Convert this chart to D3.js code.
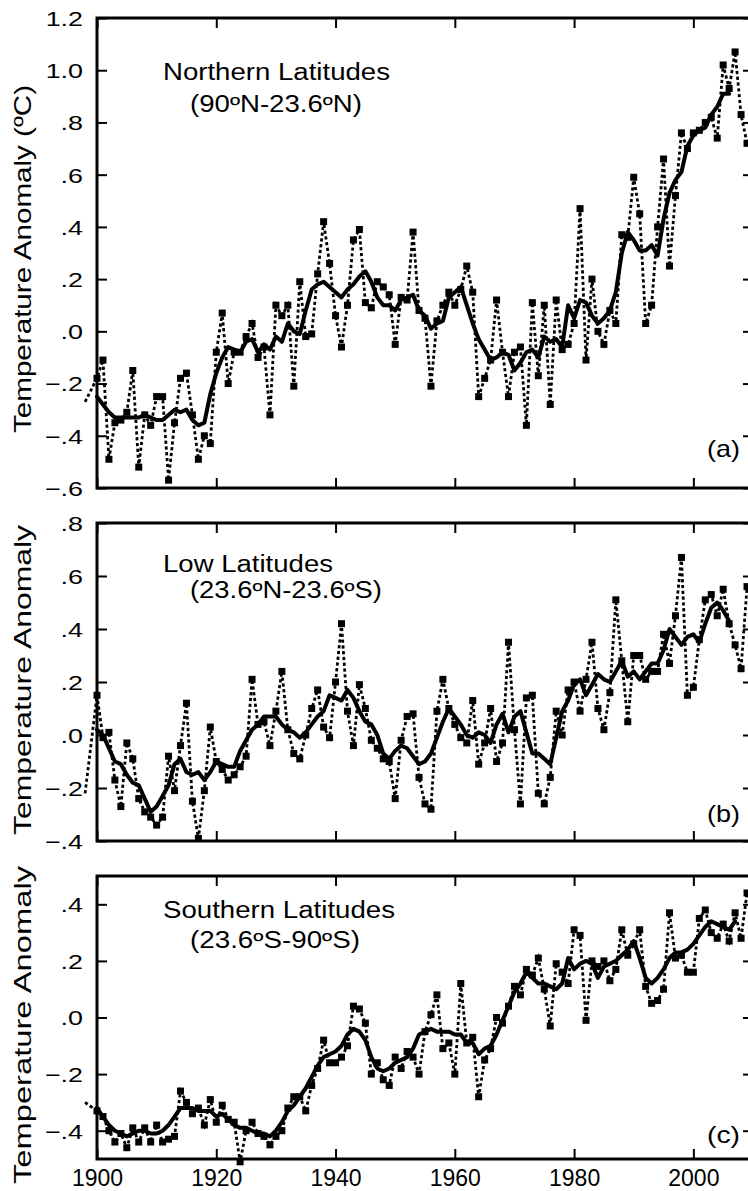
<!DOCTYPE html>
<html>
<head>
<meta charset="utf-8">
<script src="https://cdn.jsdelivr.net/npm/d3@7"></script>
<style>
  body { margin: 0; background: #fff; }
  svg { display: block; }
  text { font-family: "Liberation Sans", Arial, Helvetica, sans-serif; fill: #000; }
</style>
</head>
<body>
<svg id="chart" width="748" height="1191"></svg>
<script>
// ---------------- DATA ----------------
const firstYear = 1900;
const leadYear = 1898;
const yearTicks = [1900, 1920, 1940, 1960, 1980, 2000];

// (a) Northern Latitudes (90ºN-23.6ºN)
const northLead = -0.27;
const northAnnual = [
  -0.18, -0.11, -0.49, -0.35, -0.34, -0.31, -0.15, -0.52, -0.32, -0.36,
  -0.25, -0.25, -0.57, -0.35, -0.18, -0.16, -0.32, -0.49, -0.40, -0.43,
  -0.08,  0.07, -0.20, -0.08, -0.08, -0.02,  0.03, -0.10, -0.06, -0.32,
   0.10,  0.06,  0.10, -0.21,  0.19, -0.02, -0.01,  0.22,  0.42,  0.26,
   0.06, -0.06,  0.10,  0.35,  0.39,  0.11,  0.09,  0.19,  0.17,  0.14,
  -0.05,  0.13,  0.12,  0.38,  0.08,  0.05, -0.21,  0.04,  0.10,  0.15,
   0.10,  0.16,  0.25,  0.15, -0.25, -0.18, -0.11,  0.12, -0.08, -0.25,
  -0.08, -0.06, -0.36,  0.11, -0.17,  0.10, -0.28,  0.12, -0.07, -0.05,
   0.03,  0.47, -0.11,  0.20,  0.00, -0.05,  0.08,  0.03,  0.37,  0.36,
   0.59,  0.45,  0.03,  0.10,  0.40,  0.66,  0.25,  0.52,  0.76,  0.70,
   0.76,  0.77,  0.80,  0.82,  0.74,  1.02,  0.93,  1.07,  0.83,  0.72
];
const northSmooth = [
  -0.25, -0.28, -0.31, -0.33, -0.33, -0.33, -0.33, -0.33, -0.32, -0.33,
  -0.34, -0.34, -0.32, -0.30, -0.31, -0.30, -0.34, -0.36, -0.35, -0.24,
  -0.16, -0.10, -0.06, -0.07, -0.08, -0.04, -0.03, -0.08, -0.05, -0.07,
  -0.02, -0.04,  0.03,  0.00, -0.01,  0.08,  0.16,  0.18,  0.19,  0.17,
   0.15,  0.13,  0.16,  0.18,  0.21,  0.23,  0.19,  0.13,  0.10,  0.10,
   0.08,  0.12,  0.13,  0.14,  0.08,  0.06,  0.01,  0.03,  0.04,  0.13,
   0.15,  0.17,  0.10,  0.03, -0.03, -0.07, -0.11, -0.10, -0.08, -0.09,
  -0.15, -0.12, -0.08, -0.07, -0.10, -0.02, -0.04, -0.03, -0.06,  0.10,
   0.05,  0.12,  0.11,  0.06,  0.03,  0.05,  0.08,  0.15,  0.30,  0.38,
   0.35,  0.31,  0.31,  0.33,  0.29,  0.43,  0.53,  0.58,  0.61,  0.71,
   0.75,  0.77,  0.78,  0.83,  0.86,  0.91,  0.91
];
const northTicks = [-0.6, -0.4, -0.2, 0, 0.2, 0.4, 0.6, 0.8, 1.0, 1.2];

// (b) Low Latitudes (23.6ºN-23.6ºS)
const lowLead = -0.22;
const lowAnnual = [
   0.15, -0.01,  0.01, -0.17, -0.27, -0.03, -0.09, -0.24, -0.29, -0.31,
  -0.34, -0.31, -0.08, -0.21, -0.04,  0.12, -0.25, -0.39, -0.21,  0.03,
  -0.10, -0.13, -0.17, -0.15, -0.12, -0.08,  0.21,  0.04,  0.05, -0.04,
   0.09,  0.24,  0.02, -0.07, -0.09,  0.00,  0.10,  0.17,  0.03, -0.01,
   0.20,  0.42,  0.09, -0.04,  0.19,  0.10, -0.02, -0.05, -0.09, -0.10,
  -0.24, -0.02,  0.07,  0.08, -0.16, -0.26, -0.28,  0.09,  0.21,  0.10,
   0.04, -0.01, -0.03,  0.13, -0.11, -0.03,  0.10, -0.10, -0.03,  0.35,
   0.02, -0.26,  0.14,  0.15, -0.22, -0.26, -0.16,  0.09,  0.00,  0.17,
   0.20,  0.09,  0.21,  0.35,  0.10,  0.02,  0.16,  0.51,  0.28,  0.05,
   0.30,  0.30,  0.21,  0.24,  0.24,  0.38,  0.27,  0.45,  0.67,  0.15,
   0.18,  0.36,  0.51,  0.53,  0.45,  0.55,  0.42,  0.34,  0.25,  0.56
];
const lowSmooth = [
   0.02,  0.00, -0.05, -0.10, -0.11, -0.15, -0.18, -0.19, -0.24, -0.29,
  -0.27, -0.23, -0.19, -0.11, -0.09, -0.14, -0.15, -0.14, -0.17, -0.14,
  -0.10, -0.11, -0.12, -0.12, -0.06, -0.02,  0.02,  0.04,  0.07,  0.07,
   0.07,  0.04,  0.02,  0.01, -0.01,  0.01,  0.04,  0.07,  0.09,  0.15,
   0.14,  0.13,  0.17,  0.14,  0.09,  0.05,  0.04,  0.00, -0.07, -0.09,
  -0.06, -0.04, -0.05, -0.08, -0.11, -0.10, -0.07, -0.01,  0.05,  0.10,
   0.07,  0.04,  0.00, -0.01,  0.01,  0.00, -0.03,  0.04,  0.08,  0.01,
   0.07,  0.09,  0.01, -0.07, -0.07, -0.09, -0.11, -0.01,  0.09,  0.13,
   0.19,  0.21,  0.15,  0.19,  0.23,  0.21,  0.20,  0.24,  0.28,  0.22,
   0.24,  0.21,  0.24,  0.27,  0.27,  0.32,  0.40,  0.37,  0.34,  0.37,
   0.38,  0.35,  0.42,  0.48,  0.50,  0.47,  0.43
];
const lowTicks = [-0.4, -0.2, 0, 0.2, 0.4, 0.6, 0.8];

// (c) Southern Latitudes (23.6ºS-90ºS)
const southLead = -0.30;
const southAnnual = [
  -0.33, -0.35, -0.40, -0.44, -0.41, -0.46, -0.39, -0.44, -0.39, -0.44,
  -0.38, -0.44, -0.43, -0.42, -0.26, -0.30, -0.34, -0.32, -0.38, -0.29,
  -0.37, -0.31, -0.36, -0.37, -0.51, -0.40, -0.37, -0.41, -0.42, -0.45,
  -0.42, -0.40, -0.32, -0.28, -0.28, -0.33, -0.24, -0.18, -0.08, -0.16,
  -0.16, -0.14, -0.10,  0.04,  0.03, -0.02, -0.20, -0.16, -0.22, -0.24,
  -0.14, -0.18, -0.12, -0.14, -0.20, -0.05,  0.01,  0.08, -0.11, -0.09,
  -0.20,  0.12, -0.09, -0.07, -0.28, -0.15, -0.11,  0.00, -0.02,  0.04,
   0.11,  0.08,  0.17,  0.15,  0.21,  0.10, -0.03,  0.19,  0.16,  0.12,
   0.31,  0.29, -0.01,  0.20,  0.18,  0.20,  0.13,  0.17,  0.31,  0.22,
   0.26,  0.31,  0.11,  0.05,  0.06,  0.10,  0.37,  0.21,  0.22,  0.16,
   0.16,  0.35,  0.38,  0.30,  0.28,  0.33,  0.27,  0.37,  0.28,  0.44
];
const southSmooth = [
  -0.32, -0.35, -0.38, -0.40, -0.41, -0.42, -0.41, -0.40, -0.40, -0.41,
  -0.41, -0.40, -0.38, -0.35, -0.32, -0.32, -0.32, -0.33, -0.33, -0.33,
  -0.35, -0.34, -0.36, -0.38, -0.39, -0.39, -0.40, -0.41, -0.41, -0.42,
  -0.40, -0.37, -0.33, -0.31, -0.28, -0.25, -0.21, -0.17, -0.14, -0.13,
  -0.12, -0.10, -0.06, -0.04, -0.05, -0.08, -0.14, -0.18, -0.19, -0.18,
  -0.16, -0.15, -0.14, -0.11, -0.06, -0.05, -0.04, -0.05, -0.05, -0.05,
  -0.06, -0.06, -0.09, -0.09, -0.13, -0.11, -0.10, -0.06, -0.01,  0.04,
   0.09,  0.12,  0.16,  0.14,  0.12,  0.12,  0.11,  0.10,  0.12,  0.21,
   0.17,  0.19,  0.20,  0.19,  0.14,  0.18,  0.19,  0.20,  0.22,  0.24,
   0.27,  0.21,  0.14,  0.12,  0.14,  0.17,  0.21,  0.23,  0.23,  0.24,
   0.26,  0.29,  0.32,  0.34,  0.33,  0.32,  0.31,  0.34
];
const southTicks = [-0.4, -0.2, 0, 0.2, 0.4];

const titles = [
  ["Northern Latitudes", "(90ºN-23.6ºN)", "(a)", "Temperature Anomaly (ºC)"],
  ["Low Latitudes", "(23.6ºN-23.6ºS)", "(b)", "Temperature Anomaly"],
  ["Southern Latitudes", "(23.6ºS-90ºS)", "(c)", "Temperature Anomaly"]
];

// ---------------- LAYOUT ----------------
const panels = [
  { top: 18,  bottom: 488,  domain: [-0.6, 1.2], lead: northLead, annual: northAnnual, smooth: northSmooth, ticks: northTicks,
    t1: {x: 163, y: 80,  len: 227}, t2: {x: 190, y: 112, len: 172}, letter: {x: 707, y: 457},
    ytitle: {x: 31, y: 433, len: 348}, xlabels: false },
  { top: 523, bottom: 841,  domain: [-0.4, 0.8], lead: lowLead, annual: lowAnnual, smooth: lowSmooth, ticks: lowTicks,
    t1: {x: 163, y: 572, len: 170}, t2: {x: 190, y: 598, len: 192}, letter: {x: 707, y: 822},
    ytitle: {x: 31, y: 835, len: 310}, xlabels: false },
  { top: 876, bottom: 1159, domain: [-0.5, 0.5], lead: southLead, annual: southAnnual, smooth: southSmooth, ticks: southTicks,
    t1: {x: 163, y: 918, len: 232}, t2: {x: 190, y: 948, len: 170}, letter: {x: 707, y: 1143},
    ytitle: {x: 31, y: 1184, len: 318}, xlabels: true }
];

const svg = d3.select("#chart");
const x = d3.scaleLinear().domain([1900, 2010]).range([97, 753]);
const [x0, x1] = x.range();

const fmt = d => {
  let s = d3.format(".1f")(d);
  return s.replace(/^([\u2212-]?)0\./, "$1.");
};

panels.forEach((p, pi) => {
  const g = svg.append("g");
  const y = d3.scaleLinear().domain(p.domain).range([p.bottom, p.top]);

  // axes
  const left = g.append("g").attr("transform", `translate(${x0},0)`)
    .call(d3.axisLeft(y).tickValues(p.ticks).tickSize(-10).tickSizeOuter(0).tickPadding(14).tickFormat(fmt));
  left.selectAll("text")
    .attr("x", 0)
    .attr("dy", "0.35em")
    .attr("font-size", 21)
    .attr("transform", "translate(-14,0) scale(1.28,1)");

  g.append("g").attr("transform", `translate(${x1},0)`)
    .call(d3.axisRight(y).tickValues(p.ticks).tickSize(-10).tickSizeOuter(0).tickFormat(""));
  g.append("g").attr("transform", `translate(0,${p.top})`)
    .call(d3.axisTop(x).tickValues(yearTicks).tickSize(-10).tickSizeOuter(0).tickFormat(""));
  const bottom = g.append("g").attr("transform", `translate(0,${p.bottom})`)
    .call(d3.axisBottom(x).tickValues(yearTicks).tickSize(-10).tickSizeOuter(0).tickPadding(11)
      .tickFormat(p.xlabels ? d3.format("d") : ""));
  bottom.selectAll("text").attr("font-size", 23);

  g.selectAll(".domain").remove();
  g.selectAll(".tick line").attr("stroke", "#000").attr("stroke-width", 2);
  g.selectAll(".tick text").attr("fill", "#000").attr("font-family", '"Liberation Sans", Arial, sans-serif');

  // frame
  g.append("rect")
    .attr("x", x0).attr("y", p.top)
    .attr("width", x1 - x0).attr("height", p.bottom - p.top)
    .attr("fill", "none").attr("stroke", "#000").attr("stroke-width", 3);

  // annual dotted series
  const annualPts = p.annual.map((v, i) => ({ year: firstYear + i, v }));
  const linePts = [{ year: leadYear, v: p.lead }].concat(annualPts);
  const line = d3.line().x(d => x(d.year)).y(d => y(d.v));

  g.append("path").datum(linePts)
    .attr("d", line)
    .attr("fill", "none").attr("stroke", "#000")
    .attr("stroke-width", 2.8).attr("stroke-dasharray", "3.2,2.6");

  // smoothed series
  const smoothPts = p.smooth.map((v, i) => ({ year: firstYear + i, v }));
  g.append("path").datum(smoothPts)
    .attr("d", line)
    .attr("fill", "none").attr("stroke", "#000")
    .attr("stroke-width", 4).attr("stroke-linejoin", "round").attr("stroke-linecap", "round");

  // markers
  g.selectAll("rect.mk").data(annualPts).enter().append("rect")
    .attr("class", "mk")
    .attr("x", d => x(d.year) - 3.5).attr("y", d => y(d.v) - 3.5)
    .attr("width", 7).attr("height", 7).attr("fill", "#000");

  // texts
  const [t1, t2, letter, ytitle] = titles[pi];
  g.append("text").attr("x", p.t1.x).attr("y", p.t1.y).attr("font-size", 23)
    .attr("textLength", p.t1.len).attr("lengthAdjust", "spacingAndGlyphs").text(t1);
  g.append("text").attr("x", p.t2.x).attr("y", p.t2.y).attr("font-size", 23)
    .attr("textLength", p.t2.len).attr("lengthAdjust", "spacingAndGlyphs").text(t2);
  g.append("text").attr("x", p.letter.x).attr("y", p.letter.y).attr("font-size", 24)
    .attr("textLength", 33).attr("lengthAdjust", "spacingAndGlyphs").text(letter);
  g.append("text")
    .attr("transform", `translate(${p.ytitle.x},${p.ytitle.y}) rotate(-90)`)
    .attr("font-size", 24)
    .attr("textLength", p.ytitle.len).attr("lengthAdjust", "spacingAndGlyphs")
    .text(ytitle);
});
</script>
</body>
</html>
